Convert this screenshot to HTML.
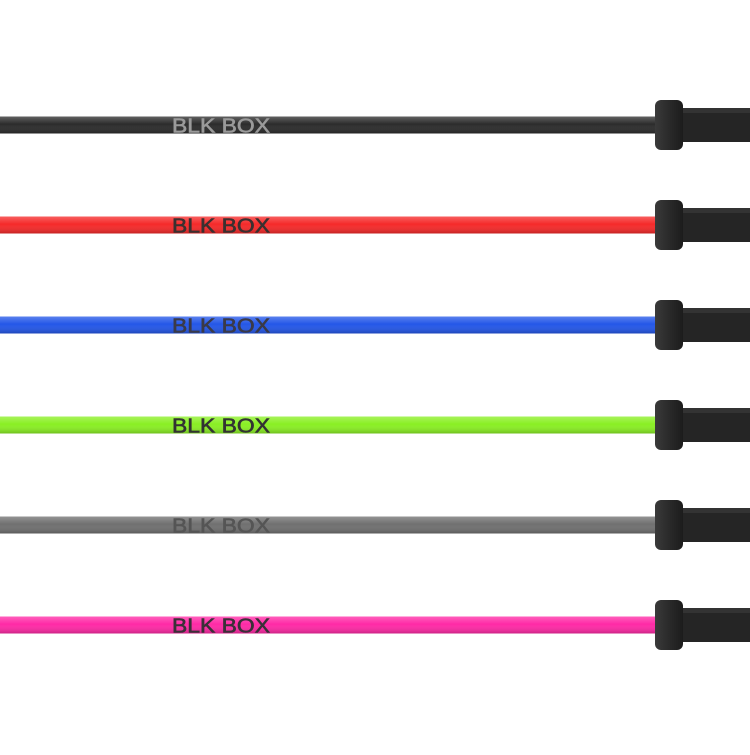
<!DOCTYPE html>
<html><head><style>
html,body{margin:0;padding:0;background:#fff;}
</style></head><body>
<svg width="750" height="750" viewBox="0 0 750 750" xmlns="http://www.w3.org/2000/svg">
<defs>
<linearGradient id="sh" x1="0" y1="0" x2="0" y2="1">
<stop offset="0" stop-color="#fff" stop-opacity="0.25"/>
<stop offset="0.45" stop-color="#fff" stop-opacity="0"/>
<stop offset="1" stop-color="#000" stop-opacity="0.2"/>
</linearGradient>
<linearGradient id="col" x1="0" y1="0" x2="1" y2="0">
<stop offset="0" stop-color="#3a3a3a"/>
<stop offset="0.5" stop-color="#2a2a2a"/>
<stop offset="1" stop-color="#1c1c1c"/>
</linearGradient>
<g id="end">
<rect x="682" y="-17" width="68" height="34" fill="#252525"/>
<rect x="682" y="-17" width="68" height="5" fill="#333"/>
<rect x="655" y="-25" width="28" height="50" rx="6" fill="url(#col)"/>
</g>
</defs>
<g font-family="Liberation Sans, sans-serif" font-size="20" stroke-width="0.6">
<g transform="translate(0,125)"><rect x="0" y="-8.5" width="660" height="17" fill="#2c2c2c"/><rect x="0" y="-8.5" width="660" height="17" fill="url(#sh)"/><text x="172" y="7.5" textLength="98" lengthAdjust="spacingAndGlyphs" fill="#9a9a9a" stroke="#9a9a9a">BLK BOX</text><use href="#end"/></g>
<g transform="translate(0,225)"><rect x="0" y="-8.5" width="660" height="17" fill="#f52a2a"/><rect x="0" y="-8.5" width="660" height="17" fill="url(#sh)"/><text x="172" y="7.5" textLength="98" lengthAdjust="spacingAndGlyphs" fill="#3a3030" stroke="#3a3030">BLK BOX</text><use href="#end"/></g>
<g transform="translate(0,325)"><rect x="0" y="-8.5" width="660" height="17" fill="#2457e8"/><rect x="0" y="-8.5" width="660" height="17" fill="url(#sh)"/><text x="172" y="7.5" textLength="98" lengthAdjust="spacingAndGlyphs" fill="#3a3a48" stroke="#3a3a48">BLK BOX</text><use href="#end"/></g>
<g transform="translate(0,425)"><rect x="0" y="-8.5" width="660" height="17" fill="#8aef24"/><rect x="0" y="-8.5" width="660" height="17" fill="url(#sh)"/><text x="172" y="7.5" textLength="98" lengthAdjust="spacingAndGlyphs" fill="#333" stroke="#333">BLK BOX</text><use href="#end"/></g>
<g transform="translate(0,525)"><rect x="0" y="-8.5" width="660" height="17" fill="#707070"/><rect x="0" y="-8.5" width="660" height="17" fill="url(#sh)"/><text x="172" y="7.5" textLength="98" lengthAdjust="spacingAndGlyphs" fill="#555" stroke="#555">BLK BOX</text><use href="#end"/></g>
<g transform="translate(0,625)"><rect x="0" y="-8.5" width="660" height="17" fill="#ff2aa6"/><rect x="0" y="-8.5" width="660" height="17" fill="url(#sh)"/><text x="172" y="7.5" textLength="98" lengthAdjust="spacingAndGlyphs" fill="#3a3038" stroke="#3a3038">BLK BOX</text><use href="#end"/></g>
</g>
</svg>
</body></html>
